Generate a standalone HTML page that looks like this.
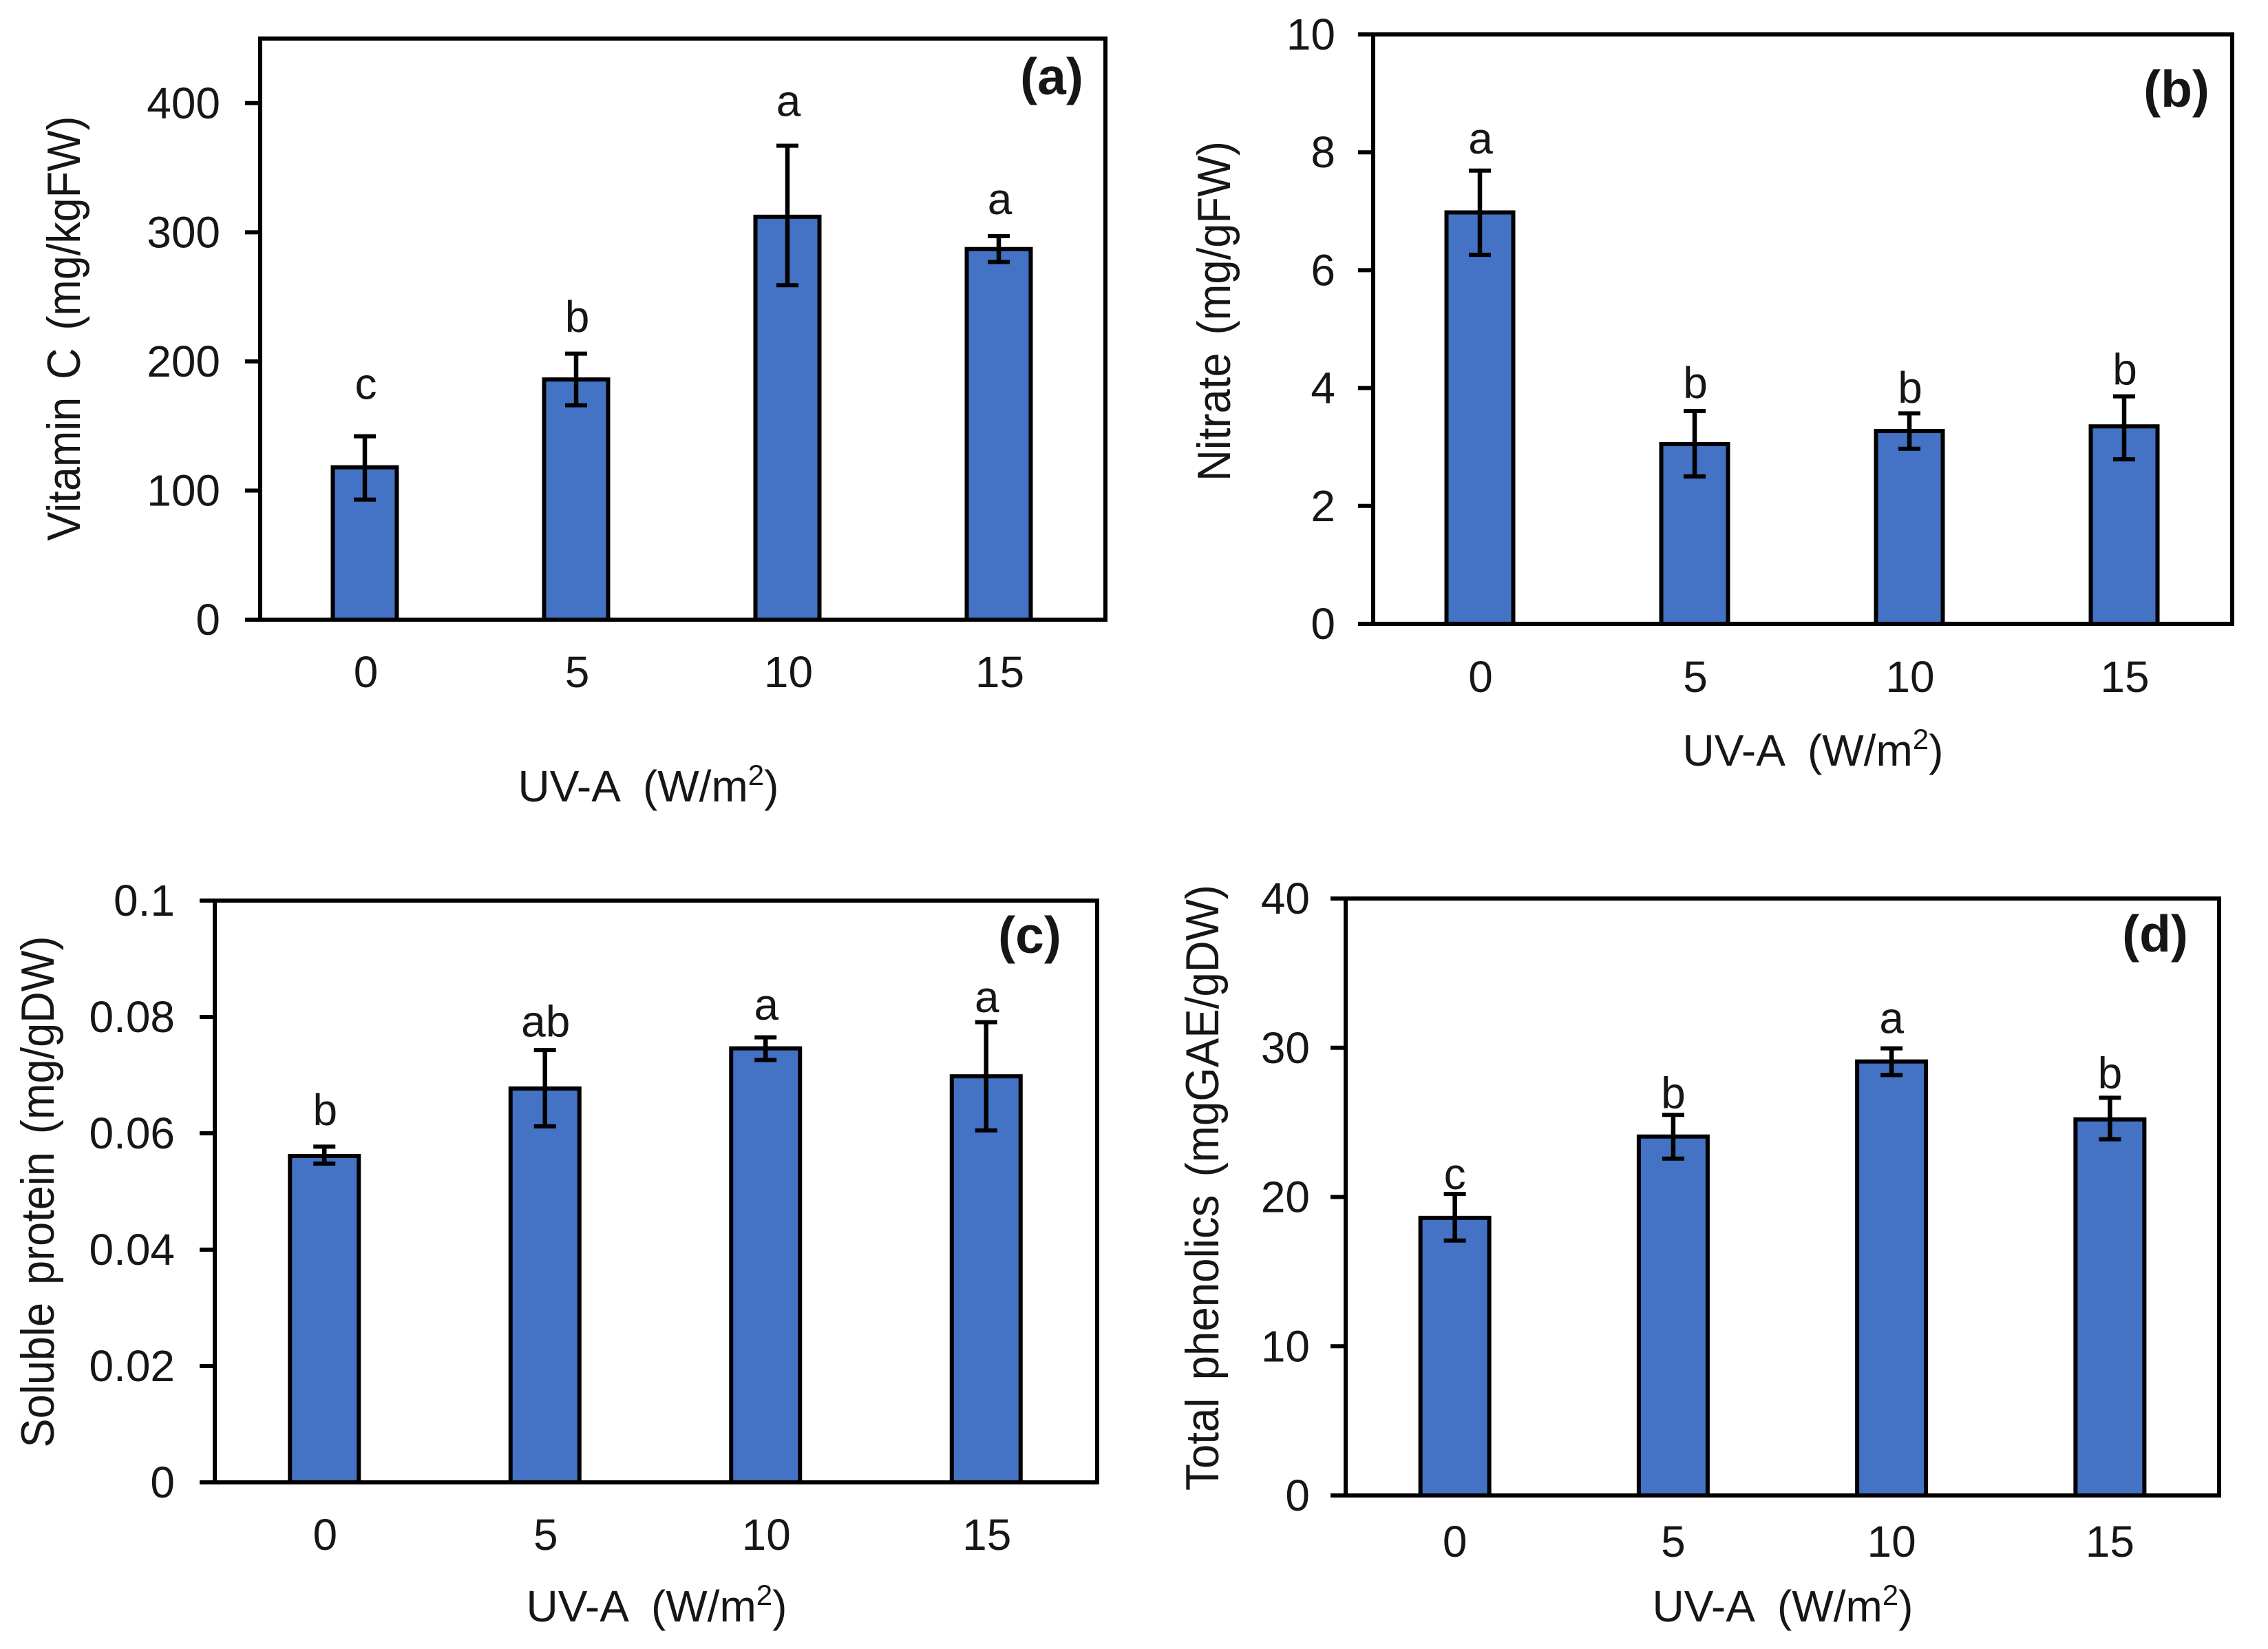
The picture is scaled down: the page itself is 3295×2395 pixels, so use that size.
<!DOCTYPE html>
<html lang="en">
<head>
<meta charset="utf-8">
<title>UV-A effects on vitamin C, nitrate, soluble protein and total phenolics</title>
<style>
  html, body { margin: 0; padding: 0; background: #ffffff; }
  svg { display: block; }
  text { font-family: "Liberation Sans", Arial, sans-serif; fill: #161616; white-space: pre; }
</style>
</head>
<body>
<svg id="figure" xmlns="http://www.w3.org/2000/svg" width="3295" height="2395" viewBox="0 0 3295 2395"></svg>
<script>
// ---- shared data ----
const categories = ['0', '5', '10', '15'];

// ---- panel (a) Vitamin C ----
const aValues = [118, 186, 312, 287];
const aUpper = [142, 206, 367, 297];
const aLower = [93, 166, 259, 277];
const aLetters = ['c', 'b', 'a', 'a'];
const aLetterGaps = [29, 17, 23, 17];
const aTickLabels = ['0', '100', '200', '300', '400'];

// ---- panel (b) Nitrate ----
const bValues = [6.98, 3.05, 3.27, 3.35];
const bUpper = [7.69, 3.61, 3.57, 3.86];
const bLower = [6.26, 2.50, 2.97, 2.79];
const bLetters = ['a', 'b', 'b', 'b'];
const bLetterGaps = [0.29, 0.22, 0.18, 0.2];
const bTickLabels = ['0', '2', '4', '6', '8', '10'];

// ---- panel (c) Soluble protein ----
const cValues = [0.0561, 0.0677, 0.0746, 0.0698];
const cUpper = [0.0577, 0.0743, 0.0765, 0.0791];
const cLower = [0.0548, 0.0612, 0.0726, 0.0605];
const cLetters = ['b', 'ab', 'a', 'a'];
const cLetterGaps = [0.0037, 0.0023, 0.003, 0.0017];
const cTickLabels = ['0', '0.02', '0.04', '0.06', '0.08', '0.1'];

// ---- panel (d) Total phenolics ----
const dValues = [18.6, 24.05, 29.08, 25.2];
const dUpper = [20.2, 25.5, 29.96, 26.65];
const dLower = [17.08, 22.57, 28.17, 23.87];
const dLetters = ['c', 'b', 'a', 'b'];
const dLetterGaps = [0.32, 0.46, 1.02, 0.63];
const dTickLabels = ['0', '10', '20', '30', '40'];

// ---- panel layouts (frame geometry and text placement, not data) ----
const panels = [
  { id: 'a', values: aValues, upper: aUpper, lower: aLower, letters: aLetters, gaps: aLetterGaps, ticks: aTickLabels,
    yMax: 450, left: 378, right: 1606, top: 56, bottom: 900, barW: 93, barShift: -1.5,
    yTitle: 'Vitamin C (mg/kgFW)', yTitleX: 116, yTitleY: 477, yTitleLen: 617,
    tickRight: 320, xTickY: 998, xTitleX: 942, xTitleY: 1164, tag: '(a)', tagX: 1528, tagY: 137 },
  { id: 'b', values: bValues, upper: bUpper, lower: bLower, letters: bLetters, gaps: bLetterGaps, ticks: bTickLabels,
    yMax: 10, left: 1995, right: 3243, top: 50, bottom: 906, barW: 97, barShift: -1,
    yTitle: 'Nitrate (mg/gFW)', yTitleX: 1787, yTitleY: 452, yTitleLen: 494,
    tickRight: 1940, xTickY: 1005, xTitleX: 2634, xTitleY: 1112, tag: '(b)', tagX: 3162, tagY: 155 },
  { id: 'c', values: cValues, upper: cUpper, lower: cLower, letters: cLetters, gaps: cLetterGaps, ticks: cTickLabels,
    yMax: 0.1, left: 312, right: 1594, top: 1308, bottom: 2153, barW: 100, barShift: -1,
    yTitle: 'Soluble protein (mg/gDW)', yTitleX: 78, yTitleY: 1731, yTitleLen: 743,
    tickRight: 254, xTickY: 2251, xTitleX: 954, xTitleY: 2355, tag: '(c)', tagX: 1496, tagY: 1384 },
  { id: 'd', values: dValues, upper: dUpper, lower: dLower, letters: dLetters, gaps: dLetterGaps, ticks: dTickLabels,
    yMax: 40, left: 1955, right: 3224, top: 1305, bottom: 2172, barW: 100, barShift: 0,
    yTitle: 'Total phenolics (mgGAE/gDW)', yTitleX: 1770, yTitleY: 1725, yTitleLen: 880,
    tickRight: 1903, xTickY: 2261, xTitleX: 2590, xTitleY: 2355, tag: '(d)', tagX: 3131, tagY: 1382 }
];

const NS = 'http://www.w3.org/2000/svg';
const figure = document.getElementById('figure');

function make(parent, tag, geometry) {
  const el = document.createElementNS(NS, tag);
  for (const key in geometry) el.setAttribute(key, geometry[key]);
  parent.appendChild(el);
  return el;
}

function xCenter(p, index) {
  const band = (p.right - p.left) / categories.length;
  return p.left + band * (index + 0.5);
}

function xScale(p, index) {
  return xCenter(p, index) + p.barShift;
}

function yScale(p, value) {
  return p.bottom - (value / p.yMax) * (p.bottom - p.top);
}

panels.forEach(function (p) {
  const group = make(figure, 'g', {});
  
  

  // bars
  p.values.forEach(function (value, i) {
    const cx = xScale(p, i);
    const barTop = yScale(p, value);
    const bar = make(group, 'rect', {
      x: cx - p.barW / 2, y: barTop, width: p.barW, height: p.bottom - barTop,
      fill: '#4472C4', stroke: '#000000', 'stroke-width': 6
    });
    
    
  });

  // frame
  const frame = make(group, 'rect', {
    x: p.left, y: p.top, width: p.right - p.left, height: p.bottom - p.top,
    fill: 'none', stroke: '#000000', 'stroke-width': 6
  });
  
  

  // y ticks and labels
  p.ticks.forEach(function (label) {
    const value = parseFloat(label);
    const y = yScale(p, value);
    const tick = make(group, 'line', {
      x1: p.left - 22, x2: p.left, y1: y, y2: y, stroke: '#000000', 'stroke-width': 6
    });
    
    
    const text = make(group, 'text', {
      x: p.tickRight, y: y + 22, 'text-anchor': 'end', 'font-size': 64
    });
    text.textContent = label;
    
    
  });

  // x tick labels
  categories.forEach(function (label, i) {
    const text = make(group, 'text', {
      x: xCenter(p, i), y: p.xTickY, 'text-anchor': 'middle', 'font-size': 64
    });
    text.textContent = label;
    
    
  });

  // error bars and significance letters
  p.values.forEach(function (value, i) {
    const cx = xScale(p, i);
    const hiY = yScale(p, p.upper[i]);
    const loY = yScale(p, p.lower[i]);
    const stem = make(group, 'line', {
      x1: cx, x2: cx, y1: hiY, y2: loY, stroke: '#000000', 'stroke-width': 6.5
    });
    
    
    const capHi = make(group, 'line', {
      x1: cx - 16, x2: cx + 16, y1: hiY, y2: hiY, stroke: '#000000', 'stroke-width': 6
    });
    
    
    const capLo = make(group, 'line', {
      x1: cx - 16, x2: cx + 16, y1: loY, y2: loY, stroke: '#000000', 'stroke-width': 6
    });
    
    
    const letter = make(group, 'text', {
      x: xCenter(p, i), y: yScale(p, p.upper[i] + p.gaps[i]), 'text-anchor': 'middle', 'font-size': 64
    });
    letter.textContent = p.letters[i];
    
    
  });

  // y-axis title
  const yTitle = make(group, 'text', {
    x: 0, y: 0, 'text-anchor': 'middle', 'font-size': 68, 'word-spacing': 9,
    transform: 'translate(' + p.yTitleX + ' ' + p.yTitleY + ') rotate(-90)',
    textLength: p.yTitleLen, lengthAdjust: 'spacingAndGlyphs'
  });
  yTitle.textContent = p.yTitle;
  
  

  // x-axis title
  const xTitle = make(group, 'text', {
    x: p.xTitleX, y: p.xTitleY, 'text-anchor': 'middle', 'font-size': 64
  });
  
  
  const main = make(xTitle, 'tspan', {});
  main.textContent = 'UV-A  (W/m';
  const sup = make(xTitle, 'tspan', { dy: -24, 'font-size': 42 });
  sup.textContent = '2';
  const close = make(xTitle, 'tspan', { dy: 24 });
  close.textContent = ')';

  // panel tag
  const tag = make(group, 'text', {
    x: p.tagX, y: p.tagY, 'text-anchor': 'middle', 'font-size': 75, 'font-weight': 'bold'
  });
  tag.textContent = p.tag;
  
  
});
</script>
</body>
</html>
